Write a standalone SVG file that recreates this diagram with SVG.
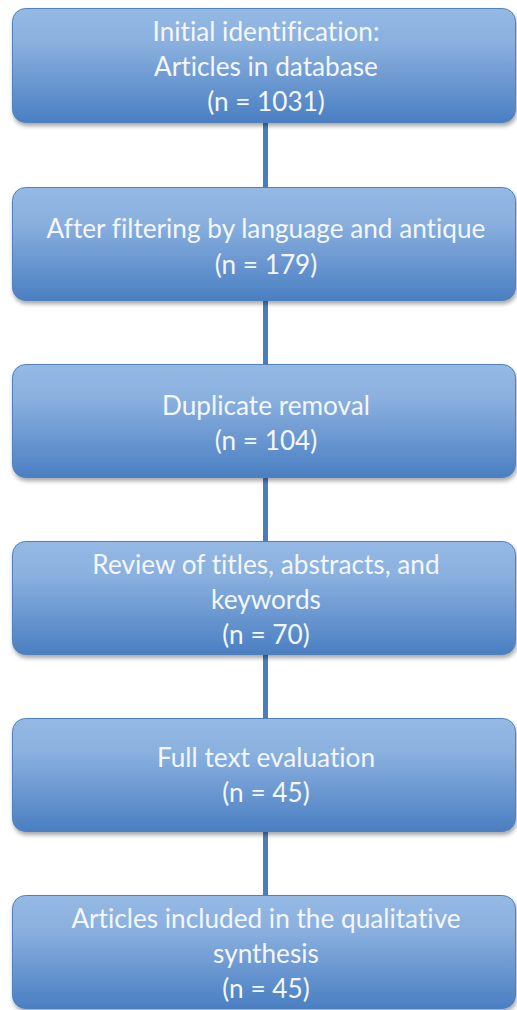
<svg xmlns="http://www.w3.org/2000/svg" width="517" height="1010" viewBox="0 0 517 1010">
<defs>
<linearGradient id="g" x1="0" y1="0" x2="0" y2="1">
<stop offset="0" stop-color="#95b9e4"/>
<stop offset="0.3" stop-color="#8ab0df"/>
<stop offset="1" stop-color="#4a7fc2"/>
</linearGradient>
<filter id="sh" x="-5%" y="-10%" width="115%" height="130%">
<feDropShadow dx="1" dy="3" stdDeviation="2" flood-color="#000" flood-opacity="0.35"/>
</filter>
</defs>
<style>
.box{fill:url(#g);stroke:#4f81bd;stroke-width:1;filter:url(#sh)}
.t{font-family:Lato,"Open Sans",sans-serif;font-size:26.2px;fill:#f4f7fb;text-anchor:middle;font-variant-ligatures:none;font-feature-settings:"liga" 0,"dlig" 0}
.c{stroke:#4a7ebb;stroke-width:5;fill:none}
</style>
<rect width="517" height="1010" fill="#fff"/>
<g id="connectors">
<line class="c" x1="265.5" y1="122" x2="265.5" y2="188"/>
<line class="c" x1="265.5" y1="300" x2="265.5" y2="365"/>
<line class="c" x1="265.5" y1="477" x2="265.5" y2="542"/>
<line class="c" x1="265.5" y1="654" x2="265.5" y2="719"/>
<line class="c" x1="265.5" y1="831" x2="265.5" y2="896"/>
</g>
<g id="n1">
<rect class="box" x="12.5" y="8.5" width="503" height="114" rx="13"/>
<text class="t" x="266" y="41">Initial identification:</text>
<text class="t" x="266" y="76">Articles in database</text>
<text class="t" x="266" y="111">(n = 1031)</text>
</g>
<g id="n2">
<rect class="box" x="12.5" y="187.5" width="503" height="113" rx="13"/>
<text class="t" x="266" y="238">After filtering by language and antique</text>
<text class="t" x="266" y="274">(n = 179)</text>
</g>
<g id="n3">
<rect class="box" x="12.5" y="364.5" width="503" height="113" rx="13"/>
<text class="t" x="266" y="415">Duplicate removal</text>
<text class="t" x="266" y="450">(n = 104)</text>
</g>
<g id="n4">
<rect class="box" x="12.5" y="541.5" width="503" height="113" rx="13"/>
<text class="t" x="266" y="574">Review of titles, abstracts, and</text>
<text class="t" x="266" y="609">keywords</text>
<text class="t" x="266" y="644">(n = 70)</text>
</g>
<g id="n5">
<rect class="box" x="12.5" y="718.5" width="503" height="113" rx="13"/>
<text class="t" x="266" y="767">Full text evaluation</text>
<text class="t" x="266" y="802">(n = 45)</text>
</g>
<g id="n6">
<rect class="box" x="12.5" y="895.5" width="503" height="113" rx="13"/>
<text class="t" x="266" y="928">Articles included in the qualitative</text>
<text class="t" x="266" y="963">synthesis</text>
<text class="t" x="266" y="998">(n = 45)</text>
</g>
</svg>
